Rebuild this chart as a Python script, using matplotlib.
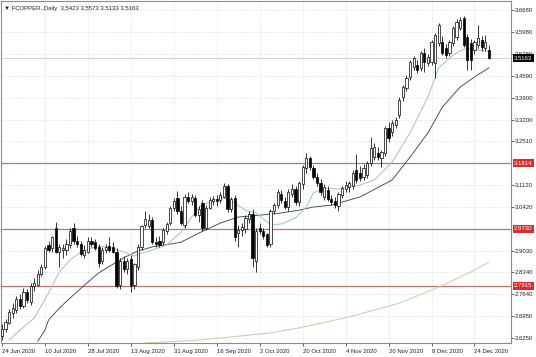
import matplotlib
matplotlib.use('Agg')
import matplotlib.pyplot as plt
import matplotlib.transforms as mtransforms
import numpy as np

# ── Data ───────────────────────────────────────────────────────────────────
title = '\u25bc FCOPPER.,Daily  3.5423 3.5573 3.5133 3.5163'

date_labels = ['24 Jun 2020', '10 Jul 2020', '28 Jul 2020', '13 Aug 2020',
               '31 Aug 2020', '16 Sep 2020', '2 Oct 2020', '20 Oct 2020',
               '4 Nov 2020', '20 Nov 2020', '8 Dec 2020', '24 Dec 2020']
date_bars = [0, 12, 24, 36, 48, 60, 72, 84, 96, 108, 120, 132]

price_ticks = [3.6680, 3.5980, 3.5280, 3.4590, 3.3900, 3.3200, 3.2510,
               3.1120, 3.0420, 2.9030, 2.8340, 2.7640, 2.6950, 2.6250]
grid_levels = price_ticks + [3.1814, 2.9730]

levels = [3.1814, 2.9730, 2.7915]
last_price = 3.5163

opens = [2.630, 2.652, 2.672, 2.705, 2.715, 2.748, 2.728, 2.772, 2.740, 2.790,
         2.795, 2.830, 2.850, 2.922, 2.912, 2.975, 2.900, 2.905, 2.905, 2.920,
         2.975, 2.935, 2.925, 2.890, 2.900, 2.935, 2.930, 2.915, 2.870, 2.905,
         2.918, 2.915, 2.900, 2.795, 2.870, 2.845, 2.875, 2.795, 2.850, 2.915,
         2.985, 2.980, 3.000, 2.930, 2.935, 2.930, 2.965, 2.990, 3.040, 3.070,
         3.030, 2.985, 3.075, 3.060, 3.070, 3.018, 3.055, 2.975, 3.040, 3.060,
         3.068, 3.065, 3.075, 3.108, 3.035, 3.070, 2.960, 2.968, 2.972, 3.005,
         3.020, 2.870, 2.975, 2.965, 2.955, 2.925, 3.030, 3.050, 3.085, 3.062,
         3.042, 3.085, 3.100, 3.058, 3.115, 3.165, 3.198, 3.165, 3.138, 3.120,
         3.075, 3.095, 3.068, 3.060, 3.045, 3.080, 3.100, 3.105, 3.110, 3.160,
         3.150, 3.137, 3.144, 3.182, 3.201, 3.214, 3.198, 3.214, 3.294, 3.281,
         3.303, 3.335, 3.392, 3.421, 3.456, 3.488, 3.494, 3.485, 3.532, 3.501,
         3.504, 3.501, 3.564, 3.567, 3.548, 3.532, 3.564, 3.583, 3.612, 3.644,
         3.583, 3.564, 3.542, 3.558, 3.574, 3.548, 3.5423]
highs = [2.668, 2.685, 2.718, 2.735, 2.760, 2.765, 2.785, 2.782, 2.800, 2.815,
         2.840, 2.860, 2.918, 2.935, 2.950, 2.995, 2.925, 2.925, 2.940, 2.975,
         2.990, 2.950, 2.935, 2.920, 2.945, 2.945, 2.940, 2.925, 2.915, 2.925,
         2.945, 2.930, 2.910, 2.880, 2.885, 2.880, 2.890, 2.865, 2.925, 2.985,
         3.030, 3.020, 3.010, 2.945, 2.950, 2.975, 2.995, 3.045, 3.070, 3.092,
         3.045, 3.085, 3.090, 3.085, 3.080, 3.045, 3.065, 3.048, 3.075, 3.078,
         3.080, 3.090, 3.120, 3.115, 3.075, 3.080, 2.985, 2.990, 3.015, 3.030,
         3.035, 2.975, 2.990, 2.975, 2.960, 3.035, 3.055, 3.100, 3.095, 3.075,
         3.100, 3.115, 3.110, 3.125, 3.175, 3.215, 3.205, 3.175, 3.150, 3.130,
         3.115, 3.110, 3.080, 3.075, 3.090, 3.110, 3.125, 3.125, 3.160, 3.210,
         3.172, 3.178, 3.190, 3.265, 3.245, 3.232, 3.225, 3.300, 3.312, 3.318,
         3.330, 3.392, 3.430, 3.462, 3.510, 3.522, 3.510, 3.540, 3.548, 3.530,
         3.575, 3.595, 3.628, 3.585, 3.562, 3.575, 3.618, 3.640, 3.647, 3.650,
         3.592, 3.578, 3.575, 3.622, 3.585, 3.590, 3.5573]
lows = [2.618, 2.645, 2.668, 2.690, 2.705, 2.718, 2.720, 2.735, 2.730, 2.775,
        2.790, 2.822, 2.845, 2.900, 2.900, 2.895, 2.850, 2.880, 2.890, 2.910,
        2.925, 2.915, 2.885, 2.880, 2.895, 2.915, 2.905, 2.850, 2.860, 2.895,
        2.900, 2.895, 2.785, 2.780, 2.835, 2.830, 2.770, 2.780, 2.840, 2.905,
        2.975, 2.975, 2.925, 2.915, 2.915, 2.920, 2.955, 2.985, 3.030, 3.020,
        2.985, 2.975, 3.055, 3.050, 3.010, 2.995, 2.965, 2.970, 3.035, 3.050,
        3.045, 3.055, 3.070, 3.025, 3.025, 2.935, 2.915, 2.950, 2.960, 2.990,
        2.850, 2.835, 2.955, 2.940, 2.915, 2.915, 3.020, 3.040, 3.055, 3.035,
        3.030, 3.075, 3.050, 3.045, 3.100, 3.150, 3.160, 3.130, 3.110, 3.080,
        3.065, 3.060, 3.050, 3.040, 3.030, 3.070, 3.090, 3.090, 3.100, 3.120,
        3.125, 3.128, 3.135, 3.172, 3.192, 3.192, 3.169, 3.205, 3.250, 3.268,
        3.295, 3.325, 3.380, 3.410, 3.445, 3.478, 3.468, 3.475, 3.472, 3.490,
        3.495, 3.453, 3.555, 3.525, 3.518, 3.522, 3.555, 3.575, 3.605, 3.550,
        3.478, 3.478, 3.530, 3.548, 3.540, 3.540, 3.5133]
closes = [2.655, 2.675, 2.708, 2.722, 2.748, 2.728, 2.772, 2.745, 2.792, 2.800,
          2.830, 2.850, 2.912, 2.905, 2.945, 2.900, 2.915, 2.912, 2.925, 2.965,
          2.935, 2.925, 2.892, 2.905, 2.935, 2.925, 2.910, 2.865, 2.905, 2.915,
          2.905, 2.900, 2.790, 2.870, 2.845, 2.870, 2.790, 2.860, 2.915, 2.980,
          3.005, 3.000, 2.930, 2.925, 2.920, 2.968, 2.988, 3.040, 3.062, 3.030,
          2.990, 3.075, 3.060, 3.075, 3.018, 3.035, 2.975, 3.040, 3.065, 3.068,
          3.060, 3.080, 3.108, 3.035, 3.068, 2.948, 2.968, 2.978, 3.008, 3.020,
          2.880, 2.965, 2.965, 2.950, 2.920, 3.030, 3.050, 3.090, 3.065, 3.042,
          3.090, 3.100, 3.058, 3.118, 3.168, 3.198, 3.170, 3.138, 3.118, 3.090,
          3.105, 3.068, 3.058, 3.050, 3.082, 3.102, 3.112, 3.118, 3.150, 3.128,
          3.134, 3.166, 3.182, 3.230, 3.233, 3.201, 3.217, 3.294, 3.262, 3.309,
          3.319, 3.383, 3.424, 3.453, 3.504, 3.516, 3.478, 3.532, 3.504, 3.520,
          3.567, 3.590, 3.622, 3.532, 3.526, 3.567, 3.612, 3.631, 3.638, 3.558,
          3.510, 3.510, 3.567, 3.580, 3.551, 3.567, 3.5163]

# moving averages, read at a few bars each
fast_ma_bars = [2, 5, 9, 13, 16, 19, 22, 25, 27, 31, 34, 37, 39, 42, 46, 50,
                55, 59, 62, 65, 68, 71, 75, 78, 82, 85, 87, 90, 94, 97, 100,
                104, 109, 114, 119, 122, 126, 129, 132, 136]
fast_ma = [2.618, 2.650, 2.688, 2.768, 2.835, 2.873, 2.899, 2.911, 2.918,
           2.911, 2.899, 2.886, 2.895, 2.905, 2.921, 2.962, 3.042, 3.064,
           3.070, 3.055, 3.032, 3.023, 2.985, 2.988, 3.007, 3.042, 3.087,
           3.102, 3.099, 3.106, 3.112, 3.128, 3.185, 3.278, 3.392, 3.485,
           3.526, 3.545, 3.545, 3.536]

slow_ma_bars = [10, 12, 13, 16, 19, 23, 27, 32, 35, 38, 42, 47, 50, 55, 61,
                66, 72, 78, 83, 87, 92, 100, 109, 114, 119, 123, 128, 132, 136]
slow_ma = [2.615, 2.650, 2.682, 2.720, 2.752, 2.793, 2.832, 2.867, 2.886,
           2.902, 2.915, 2.924, 2.930, 2.959, 2.991, 3.010, 3.016, 3.023,
           3.032, 3.042, 3.048, 3.074, 3.128, 3.201, 3.278, 3.360, 3.424,
           3.456, 3.485]

long_ma_bars = [40, 55, 75, 83, 97, 111, 122, 131, 136]
long_ma = [2.609, 2.618, 2.641, 2.657, 2.692, 2.736, 2.787, 2.835, 2.867]

# ── Figure ──────────────────────────────────────────────────────────────────
plt.rcParams['font.family'] = ['Liberation Sans', 'DejaVu Sans']
W, H = 536, 357
fig = plt.figure(figsize=(W / 100, H / 100), dpi=100)
ax = fig.add_axes([1 / W, 14 / H, 510 / W, 342 / H])

x = np.arange(len(closes))
o, h, l, c = (np.array(v) for v in (opens, highs, lows, closes))
up = c >= o

# grid
for g in grid_levels:
    ax.axhline(g, color='#c8c8c8', lw=0.5, ls=(0, (1, 2)), zorder=0)
for b in date_bars[1:]:
    ax.axvline(b, color='#c8c8c8', lw=0.5, ls=(0, (1, 2)), zorder=0)

# support / resistance levels and bid line
for lv in levels:
    ax.axhline(lv, color='#c07272', lw=0.9, zorder=1)
ax.axhline(last_price, color='#bdbdbd', lw=0.5, zorder=1)

# moving averages
ax.plot(long_ma_bars, long_ma, color='#d6c6a6', lw=0.7, zorder=1)
ax.plot(slow_ma_bars, slow_ma, color='#41456b', lw=0.65, zorder=1)
ax.plot(fast_ma_bars, fast_ma, color='#9cc6bc', lw=0.7, zorder=1)

# candles
ax.vlines(x, l, h, color='black', lw=0.55, zorder=2)
ax.bar(x[up], np.maximum((c - o)[up], 0.002), bottom=o[up], width=0.62,
       color='white', edgecolor='black', lw=0.5, zorder=3)
ax.bar(x[~up], (o - c)[~up], bottom=c[~up], width=0.62,
       color='black', edgecolor='black', lw=0.5, zorder=3)

ax.set_xlim(-0.28, 142.2)
ax.set_ylim(2.609, 3.698)

# axes styling
for s in ax.spines.values():
    s.set_color('#8c8c8c')
    s.set_linewidth(0.8)
ax.yaxis.tick_right()
ax.set_yticks(price_ticks)
ax.set_yticklabels([f'{p:.4f}' for p in price_ticks])
ax.set_xticks(date_bars)
ax.set_xticklabels(date_labels, ha='left')
ax.tick_params(axis='both', labelsize=4.3, colors='#222222', length=2,
               width=0.5, pad=1)
ax.tick_params(axis='x', pad=2)

# coloured price labels on the right scale
trans = mtransforms.blended_transform_factory(ax.transAxes, ax.transData)
for lv in levels:
    ax.text(1.006, lv, f'{lv:.4f}', transform=trans, fontsize=4.3,
            color='white', va='center', ha='left', clip_on=False, zorder=5,
            bbox=dict(boxstyle='square,pad=0.25', fc='#e32a2a', ec='none'))
ax.text(1.006, last_price, f'{last_price:.4f}', transform=trans,
        fontsize=4.3, color='white', va='center', ha='left', clip_on=False,
        zorder=5, bbox=dict(boxstyle='square,pad=0.25', fc='black', ec='none'))

ax.text(0.006, 0.985, title, transform=ax.transAxes, fontsize=4.3,
        color='#222222', va='top', ha='left')

fig.savefig('out.png', dpi=100, facecolor='white')
